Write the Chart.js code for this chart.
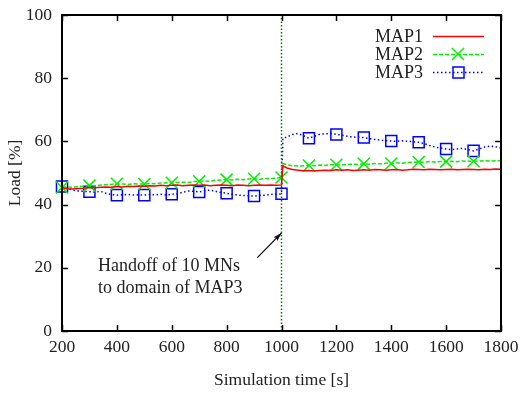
<!DOCTYPE html>
<html>
<head>
<meta charset="utf-8">
<script src="https://cdn.jsdelivr.net/npm/chart.js@4.4.0/dist/chart.umd.min.js"></script>
<style>
  html, body { margin: 0; padding: 0; background: #fff; }
  #wrap { width: 524px; height: 393px; }
</style>
</head>
<body>
<div id="wrap"><canvas id="c"></canvas></div>
<script>
// simulation time [s]
const times = [
  200, 220, 240, 260, 280, 300, 320, 340, 360, 380,
  400, 420, 440, 460, 480, 500, 520, 540, 560, 580,
  600, 620, 640, 660, 680, 700, 720, 740, 760, 780,
  800, 820, 840, 860, 880, 900, 920, 940, 960, 980,
  1000, 1005,
  1020, 1040, 1060, 1080, 1100, 1120, 1140, 1160, 1180, 1200,
  1220, 1240, 1260, 1280, 1300, 1320, 1340, 1360, 1380, 1400,
  1420, 1440, 1460, 1480, 1500, 1520, 1540, 1560, 1580, 1600,
  1620, 1640, 1660, 1680, 1700, 1720, 1740, 1760, 1780, 1800
];

// load [%]
const map1 = [
  45.3, 45.0, 44.9, 45.1, 45.2, 45.4, 45.3, 45.5, 45.6, 45.5,
  45.7, 45.6, 45.8, 45.7, 45.9, 45.8, 46.0, 45.9, 46.1, 46.0,
  46.1, 46.2, 46.0, 46.1, 46.2, 46.1, 46.2, 46.0, 46.1, 46.2,
  46.1, 46.0, 46.2, 46.1, 46.0, 46.1, 46.2, 46.1, 46.2, 46.1,
  46.2, 52.3,
  51.6, 51.1, 50.9, 50.7, 50.8, 50.6, 50.8, 50.9, 50.8, 51.0,
  50.9, 51.0, 50.8, 50.9, 51.0, 50.9, 51.1, 51.0, 50.9, 51.0,
  51.1, 50.9, 51.0, 51.2, 51.1, 51.0, 51.2, 51.1, 51.0, 51.1,
  51.2, 51.0, 51.1, 51.2, 51.1, 51.0, 51.2, 51.1, 51.3, 51.2
];
const map2 = [
  45.4, 45.6, 45.5, 45.7, 45.8, 46.0, 45.9, 46.2, 46.3, 46.4,
  46.6, 46.5, 46.4, 46.6, 46.5, 46.5, 46.7, 46.6, 46.8, 46.9,
  46.9, 47.0, 47.1, 47.0, 47.3, 47.4, 47.5, 47.4, 47.7, 47.8,
  47.9, 47.8, 48.0, 47.9, 48.1, 48.2, 48.0, 48.3, 48.2, 48.4,
  48.6, 53.0,
  52.6, 52.3, 52.2, 52.3, 52.4, 52.3, 52.5, 52.4, 52.6, 52.6,
  52.5, 52.7, 52.8, 52.7, 52.9, 52.8, 53.0, 52.9, 53.1, 53.0,
  53.2, 53.1, 53.3, 53.4, 53.5, 53.4, 53.6, 53.5, 53.6, 53.6,
  53.7, 53.6, 53.8, 53.7, 53.7, 53.8, 53.9, 53.8, 53.9, 53.9
];
const map3 = [
  45.7, 45.0, 44.6, 44.3, 44.2, 44.1, 43.9, 44.2, 43.6, 43.2,
  43.0, 43.1, 43.2, 43.0, 43.1, 43.0, 43.2, 43.1, 43.3, 43.0,
  43.3, 43.4, 43.9, 44.3, 44.2, 44.0, 44.4, 44.6, 44.2, 43.8,
  43.6, 43.2, 43.0, 42.9, 42.8, 42.7, 42.9, 43.0, 43.2, 43.3,
  43.4, 61.0,
  61.4, 62.2, 62.5, 61.8, 61.0, 61.6, 62.3, 62.4, 62.5, 62.2,
  62.0, 61.6, 61.4, 61.3, 61.2, 60.9, 60.6, 60.4, 60.2, 60.1,
  60.0, 60.2, 60.0, 59.9, 59.7, 59.3, 58.7, 58.2, 57.9, 57.6,
  57.4, 57.6, 57.8, 57.4, 57.0, 57.6, 58.2, 58.5, 58.3, 57.9
];

const handoffTime = 1000;
const xTicks = [200, 400, 600, 800, 1000, 1200, 1400, 1600, 1800];
const yTicks = [0, 20, 40, 60, 80, 100];
const seriesNames = ['MAP1', 'MAP2', 'MAP3'];
const noteLines = ['Handoff of 10 MNs', 'to domain of MAP3'];

const FONT = 'Liberation Serif';
const TXT = '#222';

function pts(vals) {
  return vals.map((v, i) => ({ x: times[i], y: v }));
}
// markers every 100 s (none on the last sample)
const markerR = r => ctx => (ctx.raw && ctx.raw.x % 100 === 0 && ctx.raw.x < 1800) ? r : 0;

// frame, mirrored ticks, legend and the handoff note
const extras = {
  id: 'extras',
  afterDraw(chart) {
    const { ctx, chartArea: a, scales: { x, y } } = chart;
    ctx.save();
    ctx.strokeStyle = '#000';
    ctx.lineWidth = 1.5;
    ctx.beginPath();
    xTicks.forEach(v => {
      const px = Math.round(x.getPixelForValue(v)) + 0.5;
      ctx.moveTo(px, a.bottom); ctx.lineTo(px, a.bottom - 6);
      ctx.moveTo(px, a.top); ctx.lineTo(px, a.top + 6);
    });
    yTicks.forEach(v => {
      const py = Math.round(y.getPixelForValue(v)) + 0.5;
      ctx.moveTo(a.left, py); ctx.lineTo(a.left + 6, py);
      ctx.moveTo(a.right, py); ctx.lineTo(a.right - 6, py);
    });
    ctx.stroke();
    ctx.lineWidth = 2;
    ctx.strokeRect(a.left, a.top, a.right - a.left, a.bottom - a.top);

    // legend
    ctx.font = '18px "' + FONT + '"';
    ctx.textAlign = 'right';
    ctx.textBaseline = 'middle';
    const styles = [
      { c: '#ff0000', dash: [] },
      { c: '#00f000', dash: [4, 2], mark: 'x' },
      { c: '#0000ff', dash: [1.5, 2.5], mark: 'sq' }
    ];
    seriesNames.forEach((n, i) => {
      const ly = 36 + i * 18;
      ctx.fillStyle = TXT;
      ctx.fillText(n, 423, ly + 1);
      const s = styles[i];
      ctx.strokeStyle = s.c;
      ctx.lineWidth = 1.5;
      ctx.setLineDash(s.dash);
      ctx.beginPath(); ctx.moveTo(433, ly + 0.5); ctx.lineTo(484, ly + 0.5); ctx.stroke();
      ctx.setLineDash([]);
      if (s.mark === 'x') {
        ctx.beginPath();
        ctx.moveTo(452, ly - 6); ctx.lineTo(464, ly + 6);
        ctx.moveTo(464, ly - 6); ctx.lineTo(452, ly + 6);
        ctx.stroke();
      } else if (s.mark === 'sq') {
        ctx.strokeRect(453, ly - 5, 11, 11);
      }
    });

    // handoff note with arrow
    ctx.fillStyle = TXT;
    ctx.textAlign = 'left';
    noteLines.forEach((t, i) => {
      ctx.fillText(t, x.getPixelForValue(331), y.getPixelForValue(20.6 - i * 7));
    });
    const x0 = x.getPixelForValue(912), y0 = y.getPixelForValue(23.2);
    const x1 = x.getPixelForValue(1000), y1 = y.getPixelForValue(31);
    ctx.strokeStyle = '#111';
    ctx.lineWidth = 1.2;
    ctx.beginPath(); ctx.moveTo(x0, y0); ctx.lineTo(x1, y1); ctx.stroke();
    const ang = Math.atan2(y1 - y0, x1 - x0);
    ctx.beginPath();
    ctx.moveTo(x1, y1);
    ctx.lineTo(x1 - 9 * Math.cos(ang - 0.3), y1 - 9 * Math.sin(ang - 0.3));
    ctx.lineTo(x1 - 7 * Math.cos(ang), y1 - 7 * Math.sin(ang));
    ctx.lineTo(x1 - 9 * Math.cos(ang + 0.3), y1 - 9 * Math.sin(ang + 0.3));
    ctx.closePath();
    ctx.fillStyle = '#111';
    ctx.fill();
    ctx.restore();
  }
};

new Chart(document.getElementById('c'), {
  type: 'line',
  data: {
    datasets: [
      {
        label: 'handoff',
        data: [{ x: handoffTime, y: 0 }, { x: handoffTime, y: 100 }],
        borderColor: '#107010',
        borderWidth: 1.5,
        borderDash: [1.5, 2],
        pointRadius: 0
      },
      {
        label: seriesNames[0],
        data: pts(map1),
        borderColor: '#ff0000',
        borderWidth: 1.5,
        pointRadius: 0,
        clip: false
      },
      {
        label: seriesNames[1],
        data: pts(map2),
        borderColor: '#00f000',
        borderWidth: 1.5,
        borderDash: [4, 2],
        pointStyle: 'crossRot',
        pointRadius: markerR(8.5),
        pointBorderWidth: 1.5,
        pointBorderColor: '#00f000',
        clip: false
      },
      {
        label: seriesNames[2],
        data: pts(map3),
        borderColor: '#0000ff',
        borderWidth: 1.5,
        borderDash: [1.5, 2.5],
        pointStyle: 'rect',
        pointRadius: markerR(7.8),
        pointBorderWidth: 1.5,
        pointBorderColor: '#0000ff',
        pointBackgroundColor: 'rgba(0,0,0,0)',
        clip: false
      }
    ]
  },
  options: {
    responsive: true,
    maintainAspectRatio: false,
    animation: false,
    events: [],
    layout: { padding: { left: 0, right: 23, top: 15, bottom: 0 } },
    elements: { line: { tension: 0 } },
    plugins: { legend: { display: false }, tooltip: { enabled: false } },
    scales: {
      x: {
        type: 'linear',
        min: 200, max: 1800,
        ticks: { stepSize: 200, padding: 6, color: TXT, maxRotation: 0, font: { family: FONT, size: 17.5 },
                 callback: v => String(v) },
        grid: { display: false, drawTicks: false },
        border: { display: true, color: '#000', width: 2 },
        title: { display: true, text: 'Simulation time [s]', color: TXT, font: { family: FONT, size: 17.5 }, padding: { top: 0, bottom: 2 } },
        afterFit: s => { s.height = 62; s.paddingLeft = 0; s.paddingRight = 0; }
      },
      y: {
        min: 0, max: 100,
        ticks: { stepSize: 20, padding: 10, color: TXT, font: { family: FONT, size: 17.5 },
                 callback: v => String(v) },
        grid: { display: false, drawTicks: false },
        border: { display: true, color: '#000', width: 2 },
        title: { display: true, text: 'Load [%]', color: TXT, font: { family: FONT, size: 17.5 }, padding: { top: 5, bottom: 0 } },
        afterFit: s => { s.width = 62; s.paddingTop = 0; s.paddingBottom = 0; }
      }
    }
  },
  plugins: [extras]
});
</script>
</body>
</html>
